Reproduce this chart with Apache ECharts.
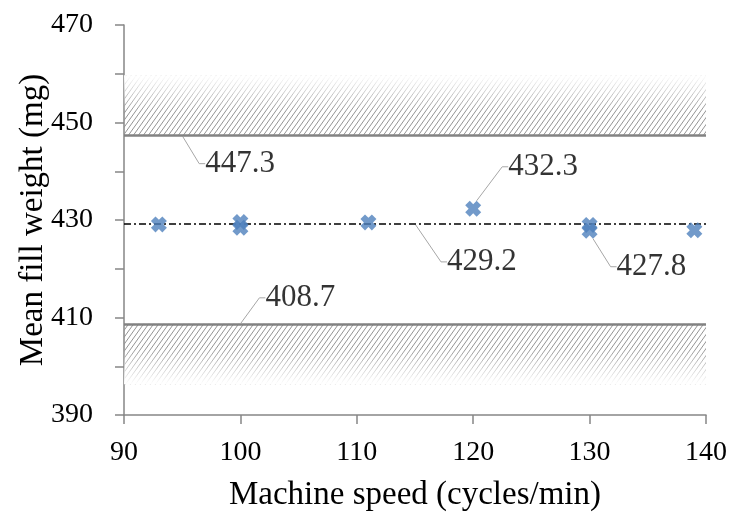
<!DOCTYPE html>
<html>
<head>
<meta charset="utf-8">
<script src="https://cdn.jsdelivr.net/npm/echarts@6/dist/echarts.min.js"></script>
<style>
  html, body { margin: 0; padding: 0; background: #fff; }
  #chart { width: 731px; height: 512px; }
</style>
</head>
<body>
<div id="chart"></div>
<script>
// machine speed (cycles/min) and mean fill weight (mg) of each run
var speeds  = [93, 100, 100, 111, 120, 130, 130, 139];
var weights = [429.1, 429.6, 428.4, 429.5, 432.3, 429.0, 427.8, 427.9];
// runs that carry a value label
var labelledRuns = [4, 6];

var upperLimit = 447.3;
var lowerLimit = 408.7;
var meanWeight = 429.2;
var bandDepth = 12.4;          // hatched zone beyond each limit
var limitLabelSpeeds = [95, 100, 115];   // where the limit labels hang off their lines

var xTicks = [90, 140, 10];
var yTicks = [390, 470, 10];

var font = "'Liberation Serif', 'Times New Roman', serif";
var blue = '#4F81BD';
var axisGrey = '#868686';

// label offsets (px) from their anchor
var runLabelOffsets = { 4: [35, -42], 6: [27, 36] };
var limitLabelOffsets = [[23, 28], [25, -26], [32, 38]];

function hatch() {
    var w = 5, h = 7;
    var c = document.createElement('canvas');
    c.width = w; c.height = h;
    var ctx = c.getContext('2d');
    ctx.strokeStyle = '#939393';
    ctx.lineWidth = 1;
    ctx.beginPath();
    ctx.moveTo(0, h); ctx.lineTo(w, 0);
    ctx.moveTo(-w, h); ctx.lineTo(0, 0);
    ctx.moveTo(w, h); ctx.lineTo(2 * w, 0);
    ctx.stroke();
    return c;
}
var hatchFill = { image: hatch(), repeat: 'repeat' };

var labelLineStyle = { color: '#a6a6a6', width: 1 };
var labelText = { color: '#000', fontFamily: font, fontSize: 31 };

var runData = speeds.map(function (s, i) {
    var item = { value: [s, weights[i]] };
    if (labelledRuns.indexOf(i) >= 0) {
        item.label = { show: true };
    }
    return item;
});

var limitValues = [upperLimit, lowerLimit, meanWeight];
var limitData = limitValues.map(function (v, i) {
    return [limitLabelSpeeds[i], v];
});

var option = {
    animation: false,
    grid: { left: 124, right: 25, top: 25, bottom: 97, containLabel: false, outerBoundsMode: 'none' },
    xAxis: {
        type: 'value',
        min: xTicks[0], max: xTicks[1], interval: xTicks[2],
        name: 'Machine speed (cycles/min)',
        nameLocation: 'middle',
        nameGap: 64,
        nameMoveOverlap: false,
        nameTextStyle: { color: '#000', fontFamily: font, fontSize: 33 },
        axisLine: { lineStyle: { color: axisGrey, width: 1.5 } },
        axisTick: { show: true, inside: false, length: 9, lineStyle: { color: axisGrey, width: 1.5 } },
        axisLabel: { color: '#000', fontFamily: font, fontSize: 28, margin: 24 },
        splitLine: { show: false }
    },
    yAxis: {
        type: 'value',
        min: yTicks[0], max: yTicks[1], interval: yTicks[2],
        name: 'Mean fill weight (mg)',
        nameLocation: 'middle',
        nameGap: 74,
        nameMoveOverlap: false,
        nameTextStyle: { color: '#000', fontFamily: font, fontSize: 33 },
        axisLine: { show: true, lineStyle: { color: axisGrey, width: 1.5 } },
        axisTick: { show: true, inside: false, length: 9, lineStyle: { color: axisGrey, width: 1.5 } },
        axisLabel: {
            color: '#000', fontFamily: font, fontSize: 28, margin: 31,
            formatter: function (v) { return (v - yTicks[0]) % 20 === 0 ? String(v) : ''; }
        },
        splitLine: { show: false }
    },
    series: [
        {
            // hatched zones beyond the limits
            type: 'scatter',
            data: [],
            z: 1,
            markArea: {
                silent: true,
                itemStyle: { color: hatchFill },
                data: [
                    [{ yAxis: upperLimit }, { yAxis: upperLimit + bandDepth }],
                    [{ yAxis: lowerLimit - bandDepth }, { yAxis: lowerLimit }]
                ]
            }
        },
        {
            // fade the hatching out towards its outer edge
            type: 'scatter',
            data: [],
            z: 2,
            markArea: {
                silent: true,
                data: [
                    [{ yAxis: upperLimit, itemStyle: { color: {
                        type: 'linear', x: 0, y: 0, x2: 0, y2: 1,
                        colorStops: [
                            { offset: 0, color: 'rgba(255,255,255,1)' },
                            { offset: 0.6, color: 'rgba(255,255,255,0)' },
                            { offset: 1, color: 'rgba(255,255,255,0)' }
                        ] } } }, { yAxis: upperLimit + bandDepth }],
                    [{ yAxis: lowerLimit - bandDepth, itemStyle: { color: {
                        type: 'linear', x: 0, y: 0, x2: 0, y2: 1,
                        colorStops: [
                            { offset: 0, color: 'rgba(255,255,255,0)' },
                            { offset: 0.4, color: 'rgba(255,255,255,0)' },
                            { offset: 1, color: 'rgba(255,255,255,1)' }
                        ] } } }, { yAxis: lowerLimit }]
                ]
            }
        },
        {
            // limit lines, mean line and their labels
            type: 'scatter',
            z: 3,
            symbol: 'circle',
            symbolSize: 2,
            itemStyle: { color: 'rgba(0,0,0,0)' },
            data: limitData,
            label: {
                show: true,
                position: 'inside',
                align: 'left',
                verticalAlign: 'middle',
                color: labelText.color, fontFamily: labelText.fontFamily, fontSize: labelText.fontSize,
                formatter: function (p) { return p.value[1].toFixed(1); }
            },
            labelLine: { show: true, length2: 6, lineStyle: labelLineStyle },
            labelLayout: function (p) {
                var o = limitLabelOffsets[p.dataIndex];
                return { dx: o[0], dy: o[1] };
            },
            emphasis: { disabled: true },
            markLine: {
                silent: true,
                symbol: 'none',
                label: { show: false },
                data: [
                    { yAxis: upperLimit, lineStyle: { color: '#828282', width: 2.5, type: 'solid' } },
                    { yAxis: lowerLimit, lineStyle: { color: '#828282', width: 2.5, type: 'solid' } },
                    { yAxis: meanWeight, lineStyle: { color: '#000', width: 1.5, type: [7, 3, 2, 3] } }
                ]
            }
        },
        {
            name: 'Mean fill weight',
            type: 'scatter',
            z: 5,
            symbol: 'path://M0,4 L4,0 L7,3 L10,0 L14,4 L11,7 L14,10 L10,14 L7,11 L4,14 L0,10 L3,7 Z',
            symbolSize: 16,
            itemStyle: { color: blue },
            data: runData,
            label: {
                show: false,
                position: 'inside',
                align: 'left',
                verticalAlign: 'middle',
                color: labelText.color, fontFamily: labelText.fontFamily, fontSize: labelText.fontSize,
                formatter: function (p) { return p.value[1].toFixed(1); }
            },
            labelLine: { show: true, length2: 6, lineStyle: labelLineStyle },
            labelLayout: function (p) {
                var o = runLabelOffsets[p.dataIndex];
                return o ? { dx: o[0], dy: o[1] } : {};
            },
            emphasis: { disabled: true }
        }
    ]
};

echarts.init(document.getElementById('chart')).setOption(option);
</script>
</body>
</html>
